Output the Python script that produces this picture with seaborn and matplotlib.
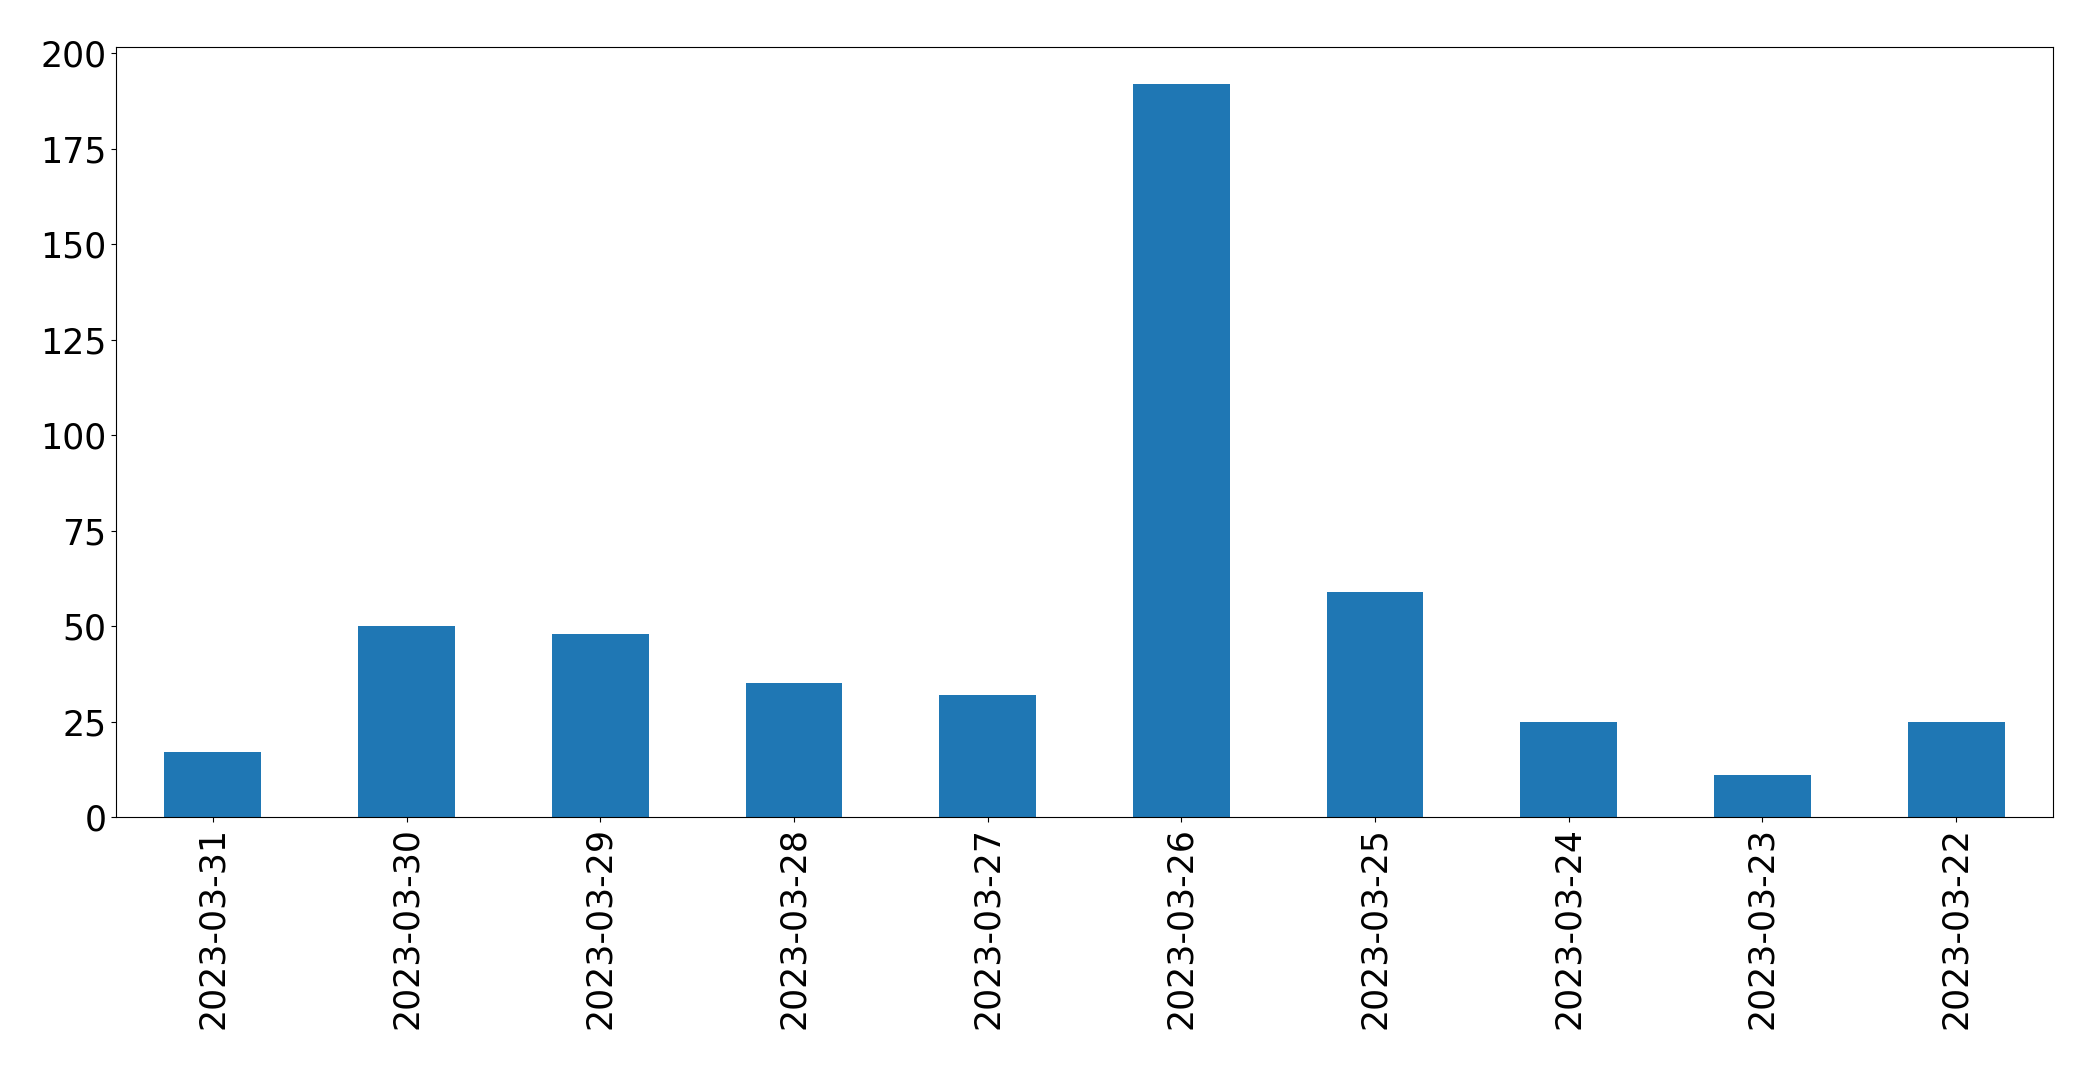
import pandas as pd
import matplotlib
matplotlib.use("Agg")
import matplotlib.pyplot as plt
import seaborn as sns

# Даты и количества (в порядке как на графике)
dates = ["2023-03-31", "2023-03-30", "2023-03-29", "2023-03-28", "2023-03-27",
         "2023-03-26", "2023-03-25", "2023-03-24", "2023-03-23", "2023-03-22"]
counts = [17, 50, 48, 35, 32, 192, 59, 25, 11, 25]

df = pd.DataFrame({"date": dates, "count": counts})

fig = plt.figure(figsize=(20.93, 10.69), dpi=100)
ax = fig.add_axes([116 / 2093, 1 - 817 / 1069, (2053 - 116) / 2093, (817 - 47) / 1069])

sns.barplot(data=df, x="date", y="count", order=dates, color="#1f77b4",
            saturation=1, width=0.5, linewidth=0, ax=ax)

ax.set_xlim(-0.5, len(dates) - 0.5)
ax.set_ylim(0, max(counts) * 1.05)
ax.set_xlabel("")
ax.set_ylabel("")
ax.tick_params(axis="both", labelsize=25)
ax.tick_params(axis="x", labelrotation=90)

plt.savefig("out.png", dpi=100)
